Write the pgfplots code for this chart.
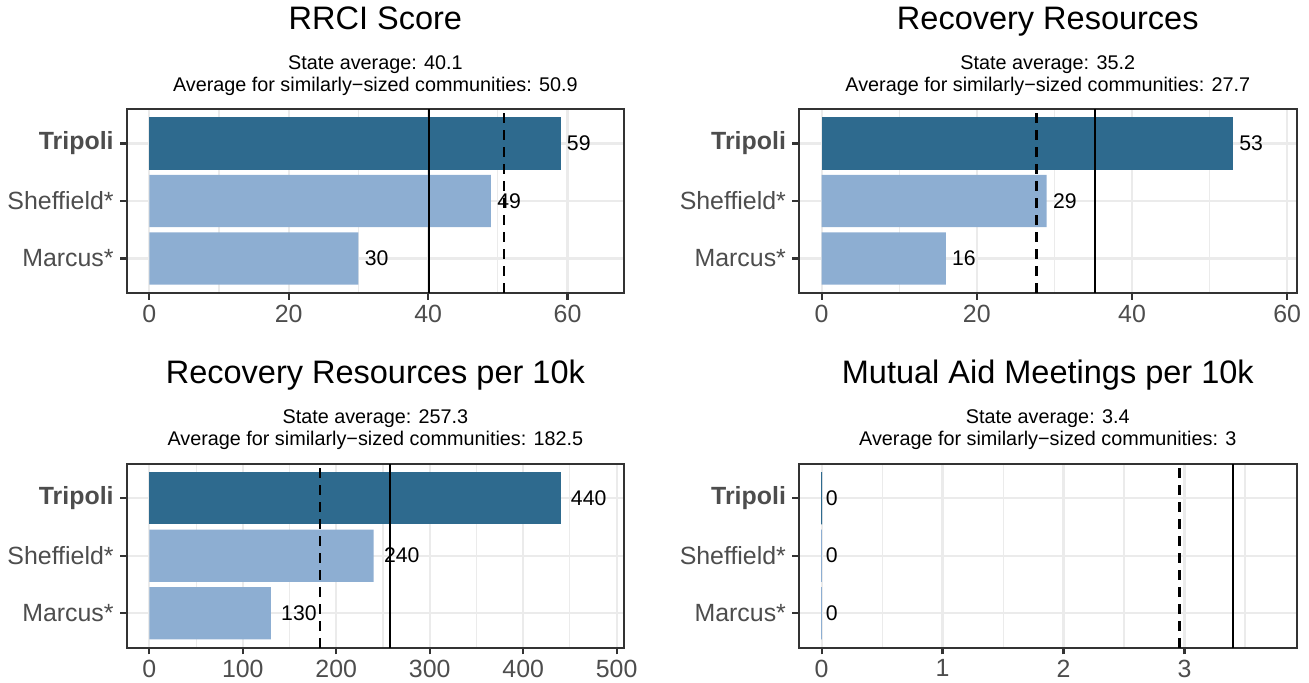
\documentclass[border=0pt]{standalone}
\usepackage{fontspec}
\setmainfont{Liberation Sans}
\usepackage{pgfplots}
\pgfplotsset{compat=1.18}
\definecolor{darkbar}{HTML}{2E6A8E}
\definecolor{lightbar}{HTML}{8DAED2}
\definecolor{gridc}{HTML}{EBEBEB}
\definecolor{g20}{HTML}{333333}
\definecolor{g30}{HTML}{4D4D4D}
\pgfplotsset{panel/.style={
  scale only axis, width=248.8pt, height=92pt,
  ymin=0.4, ymax=3.6, ytick={1,2,3},
  yticklabels={Marcus*,Sheffield*,\textbf{Tripoli}},
  axis line style={g20, line width=1.1pt},
  tick align=outside, tick pos=left,
  major tick length=3.35pt, tick style={g20, line width=1.1pt},
  minor tick length=0pt,
  xmajorgrids, xminorgrids, ymajorgrids,
  major grid style={gridc, line width=1.1pt},
  minor grid style={gridc, line width=0.55pt},
  ticklabel style={font=\fontsize{12.45}{14}\selectfont, text=g30},
  xticklabel style={inner sep=2.5pt},
  yticklabel style={inner sep=3pt},
  /pgf/number format/assume math mode=true,
},
barplot/.style={
  xbar, bar width=0.91, bar shift=0pt,
  nodes near coords, nodes near coords align={horizontal},
  point meta=explicit symbolic,
  every node near coord/.append style={anchor=west, font=\fontsize{10.6}{12}\selectfont, text=black, inner sep=0pt, xshift=#1},
},
avgline/.style={black, line width=1.2pt, mark=none, forget plot},
simline/.style={black, line width=1.2pt, dash pattern=on 5pt off 3.5pt, mark=none, forget plot},
}
\begin{document}
\begin{tikzpicture}
\path[use as bounding box] (0,0) rectangle (654.5pt,-341.5pt);
% titles
\begin{scope}[every node/.style={anchor=base, inner sep=0pt}]
\node[font=\fontsize{16.25}{18}\selectfont] at (187.7pt,-14.65pt) {RRCI Score};
\node[font=\fontsize{9.9}{11}\selectfont] at (187.7pt,-34.65pt) {State average: 40.1};
\node[font=\fontsize{9.9}{11}\selectfont] at (187.7pt,-45.65pt) {Average for similarly−sized communities: 50.9};
\node[font=\fontsize{16.25}{18}\selectfont] at (523.9pt,-14.65pt) {Recovery Resources};
\node[font=\fontsize{9.9}{11}\selectfont] at (523.9pt,-34.65pt) {State average: 35.2};
\node[font=\fontsize{9.9}{11}\selectfont] at (523.9pt,-45.65pt) {Average for similarly−sized communities: 27.7};
\node[font=\fontsize{16.25}{18}\selectfont] at (187.7pt,-191.65pt) {Recovery Resources per 10k};
\node[font=\fontsize{9.9}{11}\selectfont] at (187.7pt,-211.65pt) {State average: 257.3};
\node[font=\fontsize{9.9}{11}\selectfont] at (187.7pt,-222.65pt) {Average for similarly−sized communities: 182.5};
\node[font=\fontsize{16.25}{18}\selectfont] at (523.9pt,-191.65pt) {Mutual Aid Meetings per 10k};
\node[font=\fontsize{9.9}{11}\selectfont] at (523.9pt,-211.65pt) {State average: 3.4};
\node[font=\fontsize{9.9}{11}\selectfont] at (523.9pt,-222.65pt) {Average for similarly−sized communities: 3};
\end{scope}
% Panel 1
\begin{axis}[panel, at={(63.35pt,-146.5pt)}, anchor=south west,
  xmin=-3.245, xmax=68.145, xtick={0,20,40,60}, minor xtick={10,30,50}]
\addplot[barplot=3pt, fill=darkbar, draw=none] coordinates {(59,3) [59]};
\addplot[barplot=3pt, fill=lightbar, draw=none] coordinates {(49,2) [49] (30,1) [30]};
\addplot[avgline] coordinates {(40.1,0.4) (40.1,3.6)};
\addplot[simline] coordinates {(50.9,0.4) (50.9,3.6)};
\end{axis}
% Panel 2
\begin{axis}[panel, at={(399.5pt,-146.5pt)}, anchor=south west,
  xmin=-2.915, xmax=61.215, xtick={0,20,40,60}, minor xtick={10,30,50}]
\addplot[barplot=3pt, fill=darkbar, draw=none] coordinates {(53,3) [53]};
\addplot[barplot=3pt, fill=lightbar, draw=none] coordinates {(29,2) [29] (16,1) [16]};
\addplot[avgline] coordinates {(35.2,0.4) (35.2,3.6)};
\addplot[simline] coordinates {(27.7,0.4) (27.7,3.6)};
\end{axis}
% Panel 3
\begin{axis}[panel, at={(63.35pt,-323.85pt)}, anchor=south west,
  xmin=-24.2, xmax=508.2, xtick={0,100,200,300,400,500}, minor xtick={50,150,250,350,450}]
\addplot[barplot=5pt, fill=darkbar, draw=none] coordinates {(440,3) [440]};
\addplot[barplot=5pt, fill=lightbar, draw=none] coordinates {(240,2) [240] (130,1) [130]};
\addplot[avgline] coordinates {(257.3,0.4) (257.3,3.6)};
\addplot[simline] coordinates {(182.5,0.4) (182.5,3.6)};
\end{axis}
% Panel 4
\begin{axis}[panel, at={(399.5pt,-323.85pt)}, anchor=south west,
  xmin=-0.187, xmax=3.927, xtick={0,1,2,3}, minor xtick={0.5,1.5,2.5,3.5}]
\addplot[barplot=1.85pt, fill=darkbar, draw=darkbar, line width=0.5pt] coordinates {(0,3) [0]};
\addplot[barplot=1.85pt, fill=lightbar, draw=lightbar, line width=0.5pt] coordinates {(0,2) [0] (0,1) [0]};
\addplot[avgline] coordinates {(3.4,0.4) (3.4,3.6)};
\addplot[simline] coordinates {(2.96,0.4) (2.96,3.6)};
\end{axis}
\end{tikzpicture}
\end{document}
